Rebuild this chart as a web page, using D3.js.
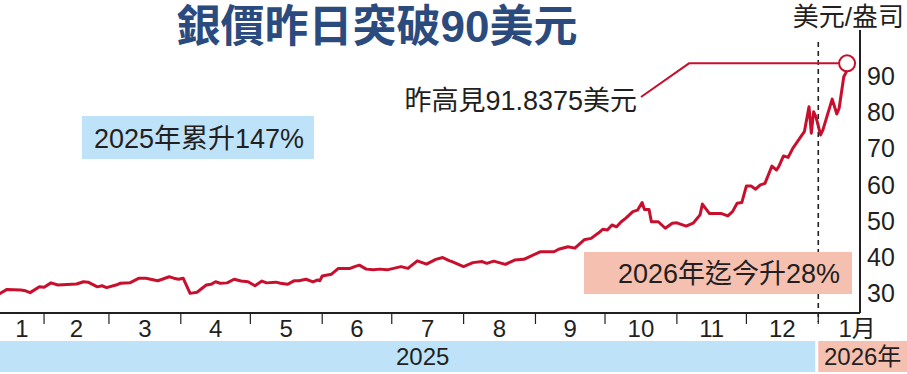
<html>
<head>
<meta charset="utf-8">
<title>silver</title>
<script src="https://cdn.jsdelivr.net/npm/d3@7"></script>
<style>
  body { margin:0px; padding:0px; background:#fff; overflow:hidden; }
  svg text { font-family:"Liberation Sans", "Noto Sans CJK TC", sans-serif; fill:#231f20; }
</style>
</head>
<body>
<svg id="chart" width="907" height="374"></svg>
<script>

// daily close, USD per ounce
var dates = [
  '2025-01-13','2025-01-16','2025-01-22','2025-01-24','2025-01-26','2025-01-30',
  '2025-02-01','2025-02-04','2025-02-07','2025-02-15','2025-02-18','2025-02-20','2025-02-24','2025-02-26','2025-02-28',
  '2025-03-04','2025-03-06','2025-03-10','2025-03-14','2025-03-17','2025-03-22','2025-03-24','2025-03-27','2025-03-29','2025-03-31',
  '2025-04-02','2025-04-05','2025-04-08','2025-04-12','2025-04-14','2025-04-16','2025-04-18','2025-04-21','2025-04-24','2025-04-27','2025-04-30',
  '2025-05-03','2025-05-06','2025-05-08','2025-05-12','2025-05-14','2025-05-17','2025-05-20','2025-05-22','2025-05-25','2025-05-28','2025-05-30','2025-05-31',
  '2025-06-01','2025-06-05','2025-06-08','2025-06-13','2025-06-15','2025-06-17','2025-06-20','2025-06-23','2025-06-26','2025-06-29',
  '2025-07-05','2025-07-08','2025-07-12','2025-07-16','2025-07-20','2025-07-23','2025-07-26','2025-07-27',
  '2025-08-01','2025-08-05','2025-08-09','2025-08-11','2025-08-14','2025-08-19','2025-08-23','2025-08-27',
  '2025-09-03','2025-09-06','2025-09-09','2025-09-11','2025-09-15','2025-09-18','2025-09-22','2025-09-25','2025-09-28','2025-09-30',
  '2025-10-02','2025-10-04','2025-10-06','2025-10-08','2025-10-10','2025-10-13','2025-10-15','2025-10-17','2025-10-18','2025-10-20','2025-10-21','2025-10-24','2025-10-27','2025-10-30',
  '2025-11-01','2025-11-05','2025-11-08','2025-11-11','2025-11-12','2025-11-15','2025-11-20','2025-11-23','2025-11-25','2025-11-27','2025-11-29',
  '2025-12-01','2025-12-03','2025-12-05','2025-12-07','2025-12-09','2025-12-12','2025-12-14','2025-12-15','2025-12-17','2025-12-19','2025-12-21','2025-12-25','2025-12-26','2025-12-28','2025-12-29','2025-12-30','2025-12-31',
  '2026-01-02','2026-01-03','2026-01-07','2026-01-09','2026-01-10','2026-01-12','2026-01-13'
];
var prices = [
  29.9,31.0,30.8,30.6,30.1,31.7,
  31.6,32.8,32.2,32.5,33.1,33.0,31.7,32.0,31.5,
  32.2,32.7,32.8,34.1,34.1,33.4,33.8,34.5,34.1,33.8,
  34.1,29.9,30.2,32.2,32.4,33.1,32.7,32.8,33.8,33.3,33.1,
  32.0,33.3,32.8,33.0,32.7,32.4,33.4,33.4,33.8,33.1,33.6,33.4,
  34.7,35.2,36.8,36.8,37.3,37.7,36.6,36.4,36.6,36.4,
  37.3,36.8,38.9,38.0,39.3,39.8,38.9,38.7,
  37.3,38.4,38.7,38.2,38.8,37.9,39.1,39.3,
  41.4,41.4,41.4,42.1,42.8,42.4,44.7,45.1,46.5,47.6,
  47.4,48.8,48.3,49.7,50.7,52.5,52.9,55.0,53.1,53.1,49.7,49.7,47.9,49.3,
  49.4,48.5,49.3,51.6,54.6,52.0,52.0,51.3,52.5,54.8,55.0,
  59.6,59.6,58.7,59.9,60.3,65.1,64.0,65.0,67.9,67.5,70.0,73.7,74.6,81.5,74.2,80.1,78.7,
  73.7,75.1,83.6,79.5,81.1,89.8,91.0
];

var yTicks = [30, 40, 50, 60, 70, 80, 90];
var monthLabels = ['1','2','3','4','5','6','7','8','9','10','11','12','1月'];
var yearLabels = ['2025', '2026年'];
var highValue = 91.8375;

var title = '銀價昨日突破90美元';
var unitLabel = '美元/盎司';
var highLabel = '昨高見91.8375美元';
var ytd2025 = '2025年累升147%';
var ytd2026 = '2026年迄今升28%';

var red = '#c8102e';
var parse = d3.timeParse('%Y-%m-%d');
var data = dates.map(function(d, i) { return {date: parse(d), v: prices[i]}; });

var x0 = parse('2025-01-13'), x1 = parse('2026-01-19');
var x = d3.scaleTime().domain([x0, x1]).range([0, 860]);
var y = d3.scaleLinear().domain([30, 90]).range([293, 76]);

var svg = d3.select('#chart');
var jan26 = parse('2026-01-01');

// title
svg.append('text')
  .attr('x', 377).attr('y', 42)
  .attr('text-anchor', 'middle')
  .style('font-size', '44px').style('font-weight', 'bold')
  .style('fill', '#2b4b7e')
  .text(title);

// unit
svg.append('text')
  .attr('x', 904).attr('y', 26)
  .attr('text-anchor', 'end')
  .style('font-size', '26px')
  .text(unitLabel);

// year dashed divider (boxes go over it)
svg.append('line')
  .attr('x1', x(jan26)).attr('x2', x(jan26))
  .attr('y1', 42).attr('y2', 322)
  .attr('stroke', '#222').attr('stroke-width', 1.6)
  .attr('stroke-dasharray', '5,4');

// boxes
svg.append('rect').attr('x', 82).attr('y', 116).attr('width', 232).attr('height', 43).attr('fill', '#bee3f8');
svg.append('text').attr('x', 199).attr('y', 148).attr('text-anchor', 'middle')
  .style('font-size', '27px').text(ytd2025);

svg.append('rect').attr('x', 584).attr('y', 252).attr('width', 268).attr('height', 42).attr('fill', '#f6c0b1');
svg.append('text').attr('x', 840).attr('y', 283).attr('text-anchor', 'end')
  .style('font-size', '27px').text(ytd2026);

// axes lines
svg.append('line').attr('x1', 0).attr('x2', 860).attr('y1', 313).attr('y2', 313)
  .attr('stroke', '#231f20').attr('stroke-width', 2);
svg.append('line').attr('x1', 860).attr('x2', 860).attr('y1', 30).attr('y2', 313)
  .attr('stroke', '#231f20').attr('stroke-width', 2);

// y labels
svg.selectAll('text.ytick')
  .data(yTicks)
  .enter()
  .append('text')
  .attr('class', 'ytick')
  .attr('x', 867)
  .attr('y', function(d) { return y(d); })
  .attr('dy', '0.36em')
  .style('font-size', '25px')
  .text(function(d) { return d; });

// month ticks + labels
var monthStarts = d3.timeMonth.range(parse('2025-02-01'), parse('2026-01-02'));
svg.selectAll('line.mtick')
  .data(monthStarts)
  .enter()
  .append('line')
  .attr('class', 'mtick')
  .attr('x1', function(d) { return x(d); })
  .attr('x2', function(d) { return x(d); })
  .attr('y1', 313).attr('y2', 324)
  .attr('stroke', '#231f20').attr('stroke-width', 1.2);

var monthPos = monthLabels.map(function(m, i) {
  var a = i === 0 ? x0 : monthStarts[i - 1];
  var b = i < monthStarts.length ? monthStarts[i] : x1;
  return {t: m, x: (x(a) + x(b)) / 2};
});
monthPos[monthPos.length - 1].x += 18;

svg.selectAll('text.mlabel')
  .data(monthPos)
  .enter()
  .append('text')
  .attr('class', 'mlabel')
  .attr('x', function(d) { return d.x; })
  .attr('y', 337)
  .attr('text-anchor', 'middle')
  .style('font-size', '24px')
  .text(function(d) { return d.t; });

// year bands
svg.append('rect').attr('x', 0).attr('y', 341).attr('width', x(jan26) - 3).attr('height', 31).attr('fill', '#bee3f8');
svg.append('rect').attr('x', x(jan26)).attr('y', 341).attr('width', 907 - x(jan26)).attr('height', 31).attr('fill', '#f6c0b1');
svg.append('text').attr('x', (x(jan26) - 3) / 2 + 15).attr('y', 365).attr('text-anchor', 'middle')
  .style('font-size', '24px').text(yearLabels[0]);
svg.append('text').attr('x', (x(jan26) + 907) / 2).attr('y', 365).attr('text-anchor', 'middle')
  .style('font-size', '24px').text(yearLabels[1]);

// price line
var line = d3.line()
  .x(function(d) { return x(d.date); })
  .y(function(d) { return y(d.v); });

svg.append('path')
  .datum(data)
  .attr('d', line)
  .attr('fill', 'none')
  .attr('stroke', red)
  .attr('stroke-width', 3)
  .attr('stroke-linejoin', 'round')
  .attr('stroke-linecap', 'round');

// high annotation
var last = data[data.length - 1];
var cx = x(last.date) + 1, cy = y(highValue) - 6;
svg.append('polyline')
  .attr('points', [[641, 97], [689, cy], [cx - 8, cy]].join(' '))
  .attr('fill', 'none').attr('stroke', red).attr('stroke-width', 2);
svg.append('circle')
  .attr('cx', cx).attr('cy', cy).attr('r', 8)
  .attr('fill', '#fff').attr('stroke', red).attr('stroke-width', 2);

svg.append('text')
  .attr('x', 637).attr('y', 110)
  .attr('text-anchor', 'end')
  .style('font-size', '27px')
  .text(highLabel);

</script>
</body>
</html>
